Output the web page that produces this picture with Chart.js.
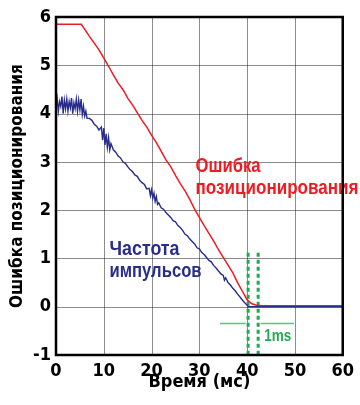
<!DOCTYPE html>
<html>
<head>
<meta charset="utf-8">
<script src="https://cdn.jsdelivr.net/npm/chart.js@4/dist/chart.umd.min.js"></script>
<style>
  html, body { margin: 0; padding: 0; background: #fff; }
  #wrap { width: 360px; height: 405px; }
</style>
</head>
<body>
<div id="wrap"><canvas id="errChart"></canvas></div>
<script>
// time axis (ms) and the two traces
let timeTicks = [0, 10, 20, 30, 40, 50, 60];
let errTicks = [-1, 0, 1, 2, 3, 4, 5, 6];

let redTime = [0, 5.3, 7, 9, 10, 11, 12, 13, 14, 15, 16, 17, 18, 19, 20, 21, 22, 23, 24, 25, 26, 27, 28, 29, 30,
  31, 32, 33, 34, 35, 36, 37, 38, 39, 40, 41, 42, 43, 60];
let posError = [5.85, 5.85, 5.6, 5.32, 5.15, 4.98, 4.8, 4.63, 4.5, 4.32, 4.18, 4.02, 3.86, 3.72, 3.55, 3.4, 3.22,
  3.04, 2.9, 2.72, 2.55, 2.4, 2.22, 2.02, 1.85, 1.68, 1.52, 1.36, 1.18, 1.02, 0.86, 0.7, 0.5, 0.32, 0.14, 0.06,
  0.03, 0.02, 0.02];

let blueTime = [0, 0.25, 0.5, 0.75, 1, 1.25, 1.5, 1.75, 2, 2.25, 2.5, 2.75, 3, 3.25, 3.5, 3.75, 4, 4.25, 4.5, 4.75,
  5, 5.25, 5.5, 5.75, 6, 6.25, 6.5, 7, 7.5, 8, 8.5, 9, 9.5, 9.75, 10, 10.25, 10.5, 10.75, 11, 11.25, 11.5, 12,
  12.5, 13, 13.5, 14, 14.5, 15, 15.5, 16, 16.5, 17, 17.5, 18, 18.5, 19, 19.5, 19.75, 20, 20.25, 20.5, 20.75, 21,
  21.25, 21.5, 22, 22.5, 23, 23.5, 24, 24.5, 25, 25.5, 26, 26.5, 27, 27.5, 28, 28.5, 29, 29.5, 30, 30.5, 31, 31.5,
  32, 32.5, 33, 33.5, 34, 34.5, 35, 35.25, 35.5, 36, 36.5, 37, 37.5, 38, 38.5, 39, 39.5, 40, 40.3, 60];
let pulseFreq = [4.1, 4.3, 4.05, 4.25, 4.15, 4.35, 4.0, 4.28, 4.1, 4.3, 4.05, 4.25, 4.12, 4.32, 4.0, 4.22, 4.1,
  4.3, 4.05, 4.28, 4.08, 4.3, 3.98, 4.15, 3.95, 4.05, 3.9, 3.9, 3.86, 3.78, 3.74, 3.66, 3.72, 3.45, 3.7, 3.35,
  3.58, 3.3, 3.5, 3.25, 3.38, 3.25, 3.2, 3.12, 3.08, 3.0, 2.97, 2.9, 2.84, 2.8, 2.73, 2.7, 2.62, 2.57, 2.53, 2.44,
  2.45, 2.3, 2.42, 2.25, 2.35, 2.18, 2.28, 2.12, 2.15, 2.05, 2.02, 1.95, 1.9, 1.85, 1.78, 1.76, 1.68, 1.64, 1.58,
  1.5, 1.47, 1.4, 1.35, 1.3, 1.22, 1.2, 1.12, 1.08, 1.02, 0.96, 0.93, 0.85, 0.8, 0.74, 0.68, 0.65, 0.55, 0.6, 0.5,
  0.45, 0.38, 0.33, 0.26, 0.2, 0.14, 0.08, 0.03, 0, 0];

// green 1ms markers
let markerTimes = [40.2, 42.3];
let markerSpan = [1.12, -1];
let arrowLeft = [34.3, 39.7];
let arrowRight = [42.8, 49.8];
let arrowLevel = -0.35;

const RED = "rgb(237, 28, 36)";
const BLUE = "rgb(40, 44, 140)";
const GREEN = "rgb(30, 170, 80)";
const LIGHTGREEN = "rgb(90, 200, 120)";
const FONT = "'Liberation Sans', Arial, sans-serif";
const NARROW = "'DejaVu Sans Condensed', 'Liberation Sans', sans-serif";

const toPts = (xs, ys) => xs.map((x, i) => ({ x: x, y: ys[i] }));

// free text on the plot, squeezed to the width it has in the picture
let labels = [
  { text: "Ошибка", x: 29.2, y: 2.8, color: RED, size: 21, w: 65 },
  { text: "позиционирования", x: 29.2, y: 2.33, color: RED, size: 21, w: 163 },
  { text: "Частота", x: 11.2, y: 1.08, color: BLUE, size: 21, w: 70 },
  { text: "импульсов", x: 11.2, y: 0.62, color: BLUE, size: 21, w: 92 },
  { text: "1ms", x: 43.6, y: -0.72, color: GREEN, size: 16, w: 27 },
];

// grid lines from the scale ticks (the dotted original reads as a thin grey line)
const drawGrid = (chart) => {
  const { ctx, scales, chartArea: a } = chart;
  ctx.save();
  ctx.strokeStyle = "rgba(0, 0, 0, 0.45)";
  ctx.lineWidth = 1;
  ctx.beginPath();
  timeTicks.forEach((v) => {
    const px = Math.round(scales.x.getPixelForValue(v)) + 0.5;
    ctx.moveTo(px, a.top);
    ctx.lineTo(px, a.bottom);
  });
  errTicks.forEach((v) => {
    const py = Math.round(scales.y.getPixelForValue(v)) + 0.5;
    ctx.moveTo(a.left, py);
    ctx.lineTo(a.right, py);
  });
  ctx.stroke();
  ctx.restore();
};

const plotDeco = {
  id: "plotDeco",
  beforeDatasetsDraw(chart) {
    drawGrid(chart);
  },
  afterDatasetsDraw(chart) {
    const { ctx, scales } = chart;
    ctx.save();
    labels.forEach((l) => {
      ctx.font = "bold " + l.size + "px " + FONT;
      ctx.fillStyle = l.color;
      ctx.textBaseline = "alphabetic";
      ctx.fillText(l.text, scales.x.getPixelForValue(l.x), scales.y.getPixelForValue(l.y), l.w);
    });
    ctx.restore();
  },
  afterDraw(chart) {
    const a = chart.chartArea;
    const ctx = chart.ctx;
    ctx.save();
    ctx.strokeStyle = "#000";
    ctx.lineWidth = 2.5;
    ctx.strokeRect(a.left, a.top, a.right - a.left, a.bottom - a.top);
    ctx.restore();
  },
};

const markerSet = (t) => ({
  data: toPts([t, t], markerSpan),
  borderColor: GREEN,
  borderWidth: 3,
  borderDash: [4, 3],
  pointRadius: 0,
  order: 3,
});
const arrowSet = (xs) => ({
  data: toPts(xs, [arrowLevel, arrowLevel]),
  borderColor: LIGHTGREEN,
  borderWidth: 1.5,
  pointRadius: 0,
  order: 3,
});

let chart = new Chart(document.getElementById("errChart"), {
  type: "line",
  data: {
    datasets: [
      { data: toPts(blueTime, pulseFreq), borderColor: BLUE, borderWidth: 1.4, pointRadius: 0, order: 0 },
      { data: toPts(redTime, posError), borderColor: RED, borderWidth: 1.5, pointRadius: 0, order: 1 },
      markerSet(markerTimes[0]),
      markerSet(markerTimes[1]),
      arrowSet(arrowLeft),
      arrowSet(arrowRight),
    ],
  },
  options: {
    responsive: true,
    maintainAspectRatio: false,
    animation: false,
    layout: { padding: { top: 17, right: 14, left: 0, bottom: 0 } },
    plugins: { legend: { display: false }, tooltip: { enabled: false } },
    scales: {
      x: {
        type: "linear",
        min: 0,
        max: 60,
        afterFit: (s) => { s.height = 50; },
        afterBuildTicks: (s) => { s.ticks = timeTicks.map((v) => ({ value: v })); },
        grid: { display: false, drawTicks: false },
        border: { display: false },
        ticks: { color: "#000", padding: 6, font: { family: NARROW, size: 18, weight: "bold" } },
        title: {
          display: true,
          text: "Время (мс)",
          color: "#000",
          padding: { top: 0, bottom: 12 },
          font: { family: NARROW, size: 18, weight: "bold" },
        },
      },
      y: {
        min: -1,
        max: 6,
        afterFit: (s) => { s.width = 56; },
        afterBuildTicks: (s) => { s.ticks = errTicks.map((v) => ({ value: v })); },
        grid: { display: false, drawTicks: false },
        border: { display: false },
        ticks: { color: "#000", padding: 5, font: { family: NARROW, size: 18, weight: "bold" } },
        title: {
          display: true,
          text: "Ошибка позиционирования",
          color: "#000",
          padding: { top: 7, bottom: 0 },
          font: { family: NARROW, size: 17, weight: "bold" },
        },
      },
    },
  },
  plugins: [plotDeco],
});
</script>
</body>
</html>
